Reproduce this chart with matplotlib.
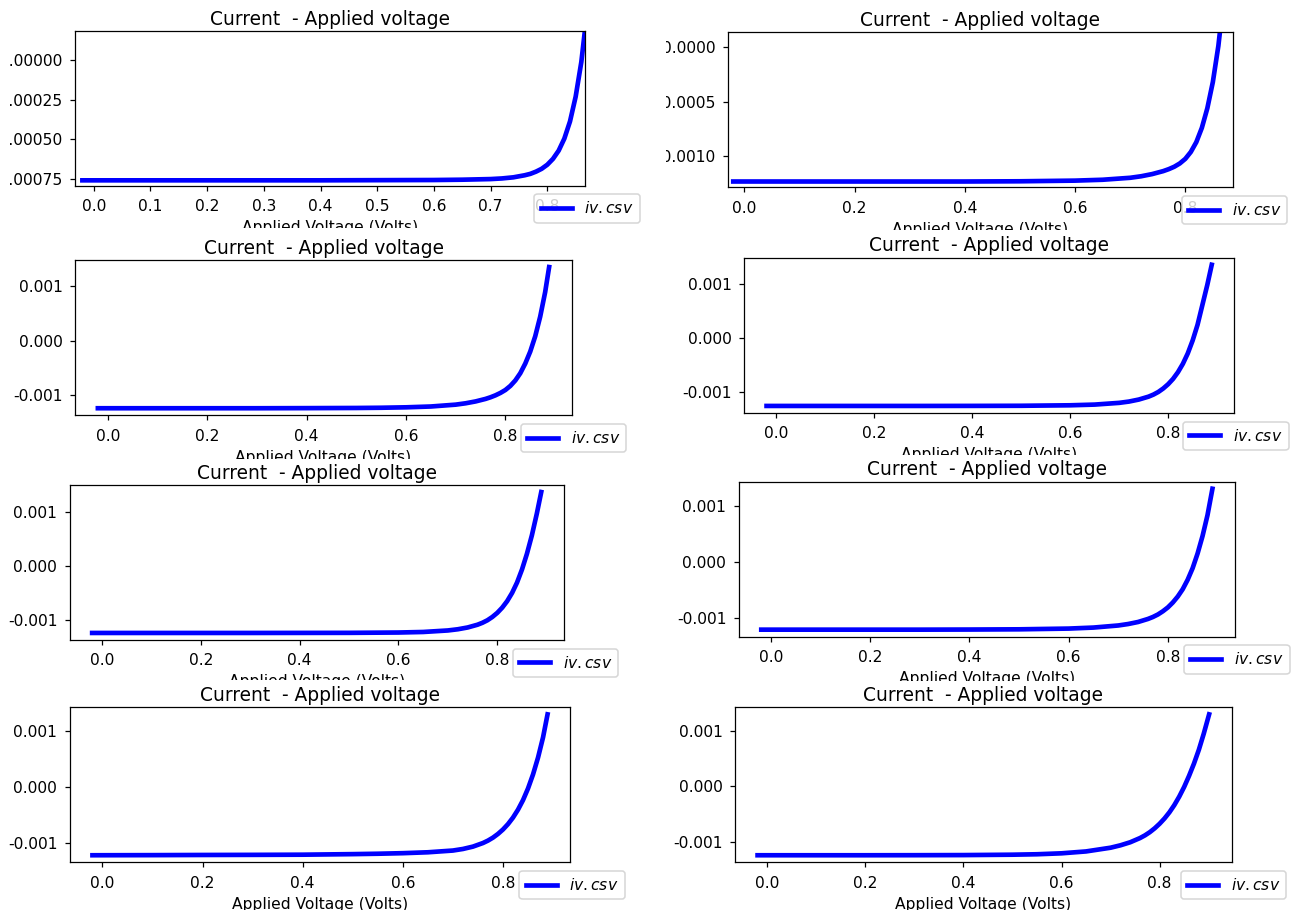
import matplotlib
matplotlib.use("Agg")
import matplotlib.pyplot as plt
from matplotlib.ticker import MultipleLocator
from matplotlib.transforms import Bbox, TransformedBbox

plt.rcParams['axes.unicode_minus'] = False
plt.rcParams['xtick.major.pad'] = 5.0
plt.rcParams['ytick.major.pad'] = 4.5
plt.rcParams['axes.titlepad'] = 4.0

W, H, DPI = 1297, 910, 112

title_text = "Current  - Applied voltage"
xlabel_text = "Applied Voltage (Volts)"
legend_label = r"$iv.csv$"

# ---- data (Volts, Amps) ----
v_1 = [-0.02, 0.1, 0.2, 0.3, 0.4, 0.5, 0.6, 0.65, 0.7, 0.72, 0.74, 0.76, 0.77, 0.78, 0.79,
       0.8, 0.81, 0.82, 0.83, 0.84, 0.85, 0.86, 0.87, 0.88]
i_1 = [-0.00076, -0.00076, -0.00076, -0.00076, -0.00076, -0.000759, -0.000758, -0.000756,
       -0.000752, -0.000748, -0.000741, -0.000728, -0.000719, -0.000705, -0.000687,
       -0.000661, -0.000624, -0.000572, -0.000496, -0.000387, -0.00023, -0.00001,
       0.000305, 0.00075]

v_2 = [-0.02, 0.1, 0.2, 0.3, 0.4, 0.5, 0.6, 0.65, 0.7, 0.72, 0.74, 0.76, 0.77, 0.78, 0.79,
       0.8, 0.81, 0.82, 0.83, 0.84, 0.85, 0.86, 0.87, 0.88]
i_2 = [-0.00123, -0.00123, -0.00123, -0.00123, -0.00123, -0.001228, -0.001222, -0.001214,
       -0.001196, -0.001182, -0.001162, -0.001135, -0.001117, -0.001095, -0.001065,
       -0.001023, -0.00096, -0.00087, -0.00074, -0.00056, -0.00032, 0.00001, 0.00046,
       0.00109]

v_3 = [-0.02, 0.1, 0.2, 0.3, 0.4, 0.5, 0.55, 0.6, 0.65, 0.7, 0.72, 0.74, 0.76, 0.77, 0.78,
       0.79, 0.8, 0.81, 0.82, 0.83, 0.84, 0.85, 0.86, 0.87, 0.88, 0.888]
i_3 = [-0.00124, -0.00124, -0.00124, -0.00124, -0.001238, -0.001235, -0.001231, -0.001223,
       -0.001208, -0.001174, -0.001149, -0.001115, -0.001069, -0.001039, -0.001003,
       -0.000959, -0.000905, -0.00083, -0.00073, -0.000597, -0.00042, -0.0002, 0.00008,
       0.00044, 0.00089, 0.00135]

v_4 = [-0.02, 0.1, 0.2, 0.3, 0.4, 0.5, 0.6, 0.65, 0.7, 0.72, 0.74, 0.76, 0.77, 0.78, 0.79,
       0.8, 0.81, 0.82, 0.83, 0.84, 0.85, 0.86, 0.87, 0.88, 0.889]
i_4 = [-0.00125, -0.00125, -0.00125, -0.00125, -0.001249, -0.001247, -0.001238, -0.001225,
       -0.001193, -0.001169, -0.001132, -0.001078, -0.00104, -0.000991, -0.000927,
       -0.000848, -0.00075, -0.000626, -0.000472, -0.00028, -0.00004, 0.00025, 0.00062,
       0.00099, 0.00136]

v_5 = [-0.02, 0.1, 0.2, 0.3, 0.4, 0.5, 0.6, 0.65, 0.7, 0.72, 0.74, 0.76, 0.77, 0.78, 0.79,
       0.8, 0.81, 0.82, 0.83, 0.84, 0.85, 0.86, 0.87, 0.88, 0.889]
i_5 = [-0.00124, -0.00124, -0.00124, -0.00124, -0.001239, -0.001238, -0.001232, -0.001222,
       -0.001194, -0.001172, -0.001139, -0.001088, -0.001052, -0.001006, -0.000945,
       -0.000869, -0.000773, -0.000653, -0.000501, -0.00031, -0.00007, 0.00022, 0.00056,
       0.00096, 0.00136]

v_6 = [-0.02, 0.1, 0.2, 0.3, 0.4, 0.5, 0.6, 0.65, 0.7, 0.72, 0.74, 0.76, 0.77, 0.78, 0.79,
       0.8, 0.81, 0.82, 0.83, 0.84, 0.85, 0.86, 0.87, 0.88, 0.89]
i_6 = [-0.0012, -0.0012, -0.0012, -0.0012, -0.001198, -0.001194, -0.001181, -0.001163,
       -0.001126, -0.0011, -0.001064, -0.00101, -0.000975, -0.000931, -0.000874,
       -0.000806, -0.000719, -0.000613, -0.000483, -0.000315, -0.00011, 0.00015, 0.00046,
       0.00083, 0.0013]

v_7 = [-0.02, 0.1, 0.2, 0.3, 0.4, 0.5, 0.55, 0.6, 0.65, 0.7, 0.72, 0.74, 0.76, 0.77, 0.78,
       0.79, 0.8, 0.81, 0.82, 0.83, 0.84, 0.85, 0.86, 0.87, 0.88, 0.889]
i_7 = [-0.00121, -0.001208, -0.001205, -0.001203, -0.0012, -0.00119, -0.001183, -0.001173,
       -0.001157, -0.001126, -0.001098, -0.001056, -0.000992, -0.000949, -0.000896,
       -0.00083, -0.000751, -0.000655, -0.000539, -0.000398, -0.000228, -0.00002, 0.00023,
       0.00053, 0.00089, 0.0013]

v_8 = [-0.02, 0.1, 0.2, 0.3, 0.4, 0.5, 0.55, 0.6, 0.65, 0.7, 0.72, 0.74, 0.76, 0.77, 0.78,
       0.79, 0.8, 0.81, 0.82, 0.83, 0.84, 0.85, 0.86, 0.87, 0.88, 0.89, 0.901]
i_8 = [-0.00124, -0.00124, -0.00124, -0.001239, -0.001237, -0.00123, -0.001222, -0.001205,
       -0.001171, -0.001104, -0.001061, -0.001006, -0.00093, -0.000882, -0.000824,
       -0.000754, -0.000672, -0.000577, -0.000466, -0.000336, -0.000184, -0.00001, 0.00019,
       0.00041, 0.00066, 0.00095, 0.0013]

series = [(v_1, i_1), (v_2, i_2), (v_3, i_3), (v_4, i_4),
          (v_5, i_5), (v_6, i_6), (v_7, i_7), (v_8, i_8)]

# ---- layout (pixel boxes: left, top, right, bottom) ----
boxes = [(75.3, 31, 585.3, 185.7), (728.3, 32, 1232.7, 187.3),
         (75.3, 260, 571.7, 415.3), (744.3, 257.7, 1234, 413),
         (69.7, 485, 563.7, 640), (738.7, 481.7, 1235, 636.7),
         (69.7, 707.3, 570.3, 862.3), (735, 707.3, 1231.7, 862.3)]
label_cut = [228, 230, 459, 455, 680, 681, 910, 910]
tick_cut = [8, 666, None, None, None, None, None, None]
x_steps = [0.1, 0.2, 0.2, 0.2, 0.2, 0.2, 0.2, 0.2]
y_steps = [0.00025, 0.0005, 0.001, 0.001, 0.001, 0.001, 0.001, 0.001]
fixed_limits = {0: ((-0.0325, 0.867), (-0.000794, 0.000186)),
                1: ((-0.029, 0.886), (-0.001283, 0.000137))}

fig = plt.figure(figsize=(W / DPI, H / DPI), dpi=DPI)
fig.patch.set_facecolor('white')
axes = []
for k, ((v, cur), (l, t, r, b)) in enumerate(zip(series, boxes)):
    ax = fig.add_axes([l / W, 1 - b / H, (r - l) / W, (b - t) / H])
    ax.plot(v, cur, color='blue', lw=3, label=legend_label)
    if k in fixed_limits:
        ax.set_xlim(*fixed_limits[k][0])
        ax.set_ylim(*fixed_limits[k][1])
    ax.xaxis.set_major_locator(MultipleLocator(x_steps[k]))
    ax.yaxis.set_major_locator(MultipleLocator(y_steps[k]))
    ax.set_title(title_text)
    ax.set_xlabel(xlabel_text)
    ax.legend(loc='upper right', bbox_to_anchor=((r + 54.5) / W, 1 - (b + 8.5) / H),
              bbox_transform=fig.transFigure, borderaxespad=0)
    lab = ax.xaxis.label
    lab.set_clip_box(TransformedBbox(Bbox.from_extents(0, 1 - label_cut[k] / H, 1, 1),
                                     fig.transFigure))
    lab.set_clip_on(True)
    axes.append(ax)

fig.canvas.draw()
for k, ax in enumerate(axes):
    if tick_cut[k] is not None:
        cb = TransformedBbox(Bbox.from_extents(tick_cut[k] / W, 0, 1, 1), fig.transFigure)
        for tk in ax.yaxis.get_major_ticks():
            tk.label1.set_clip_box(cb)
            tk.label1.set_clip_on(True)

fig.savefig('out.png', dpi=DPI, facecolor='white')
